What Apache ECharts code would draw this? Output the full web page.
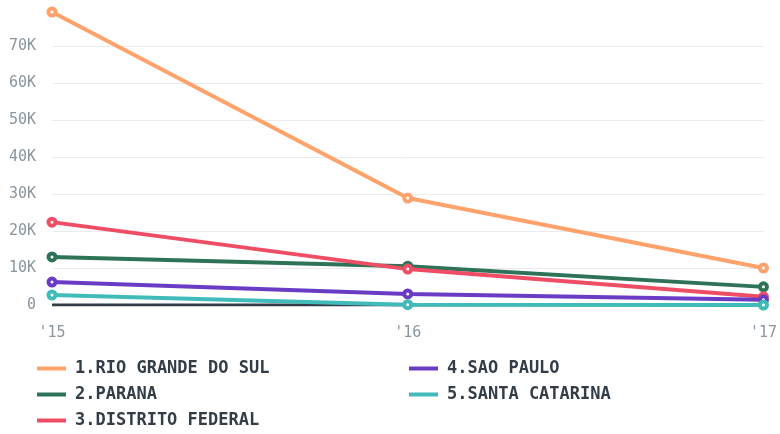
<!DOCTYPE html>
<html>
<head>
<meta charset="utf-8">
<script src="https://cdn.jsdelivr.net/npm/echarts@6/dist/echarts.min.js"></script>
<style>
  html, body { margin: 0; padding: 0; background: #fff; }
  #chart { width: 780px; height: 434px; }
</style>
</head>
<body>
<div id="chart"></div>
<script>
var years = ["'15", "'16", "'17"];
var names = ['1.RIO GRANDE DO SUL', '2.PARANA', '3.DISTRITO FEDERAL', '4.SAO PAULO', '5.SANTA CATARINA'];
var rioGrande = [79200, 28900, 10000];
var parana = [13000, 10500, 4900];
var distrito = [22400, 9700, 2200];
var saoPaulo = [6200, 3000, 1400];
var santaCatarina = [2700, 100, 0];
var colors = ['#ffa26b', '#2e7358', '#ef4d65', '#6a3cc6', '#40bbb9'];

var chart = echarts.init(document.getElementById('chart'));
var font = 'DejaVu Sans Mono';

function mkSeries(name, data, color) {
    return {
        name: name,
        type: 'line',
        data: data,
        symbol: 'circle',
        symbolSize: 7,
        lineStyle: { width: 4, color: color },
        itemStyle: { color: '#fff', borderColor: color, borderWidth: 4 },
        emphasis: { disabled: true }
    };
}

function legendItems(from, to) {
    return names.slice(from, to).map(function (n, i) {
        return { name: n, itemStyle: { color: colors[from + i], borderWidth: 0 } };
    });
}

var legendBase = {
    orient: 'vertical',
    icon: 'rect',
    padding: 0,
    itemWidth: 29,
    itemHeight: 4,
    itemGap: 9,
    top: 360,
    height: 74,
    textStyle: { fontFamily: font, fontWeight: 'bold', fontSize: 17, color: '#333d47', padding: [0, 0, 0, 4] }
};

var option = {
    animation: false,
    color: colors,
    grid: { left: 52, right: 15, top: 12, bottom: 129 },
    legend: [
        Object.assign({}, legendBase, { left: 37, data: legendItems(0, 3) }),
        Object.assign({}, legendBase, { left: 409, data: legendItems(3, 5) })
    ],
    xAxis: {
        type: 'category',
        data: years,
        boundaryGap: false,
        axisLine: { show: false },
        axisTick: { show: false },
        axisLabel: { fontFamily: font, fontSize: 15, color: '#8a959e', margin: 21 }
    },
    yAxis: {
        type: 'value',
        min: 0,
        max: 79200,
        interval: 10000,
        axisLine: { show: false },
        axisTick: { show: false },
        splitLine: { showMaxLine: false, lineStyle: { color: '#ebebeb', width: 1 } },
        axisLabel: {
            fontFamily: font, fontSize: 15, color: '#8a959e', margin: 16,
            showMaxLabel: false,
            formatter: function (v) { return v === 0 ? '0' : (v / 1000) + 'K'; }
        }
    },
    series: [
        mkSeries(names[0], rioGrande, colors[0]),
        mkSeries(names[1], parana, colors[1]),
        mkSeries(names[2], distrito, colors[2]),
        mkSeries(names[3], saoPaulo, colors[3]),
        mkSeries(names[4], santaCatarina, colors[4]),
        {
            type: 'line',
            silent: true,
            data: [0, 0, 0],
            symbol: 'none',
            lineStyle: { width: 3, color: '#333d47' },
            z: 1
        }
    ]
};
chart.setOption(option);
window.onresize = chart.resize;
</script>
</body>
</html>
